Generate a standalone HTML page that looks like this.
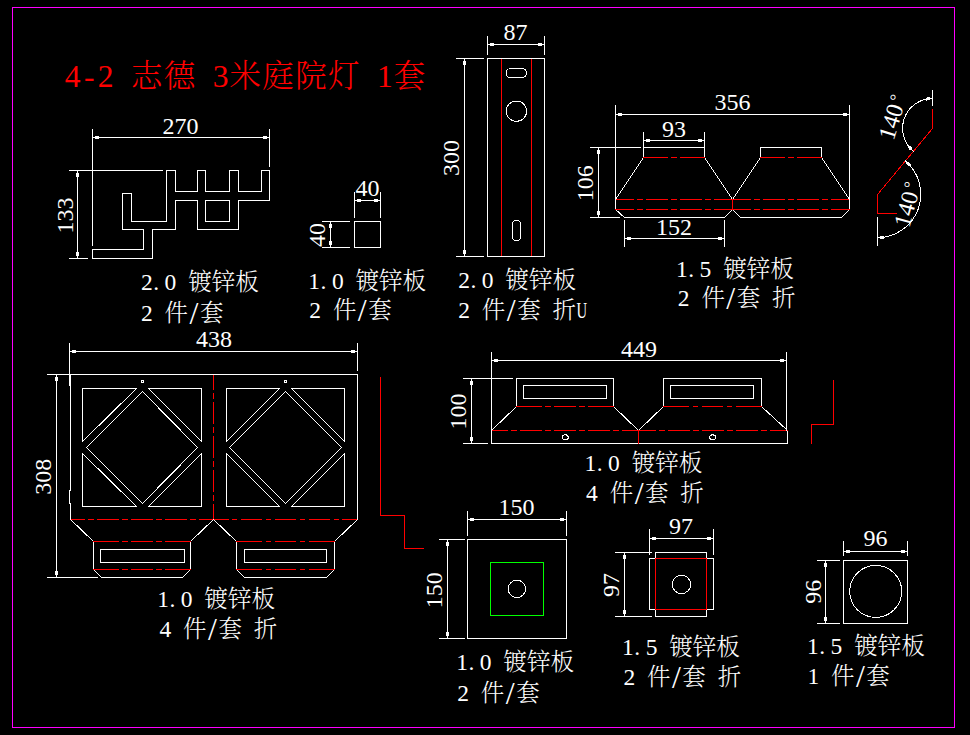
<!DOCTYPE html>
<html lang="zh"><head><meta charset="utf-8"><title>4-2 志德 3米庭院灯</title>
<style>
html,body{margin:0;padding:0;background:#000;overflow:hidden}
svg{display:block}
line,polyline,polygon,rect,circle,ellipse,path{fill:none;stroke-width:1;shape-rendering:crispEdges;stroke-linecap:square}
.w{stroke:#fff}.r{stroke:#f00}.g{stroke:#0f0}.m{stroke:#f0f}
.w2{stroke:#fff;shape-rendering:crispEdges}
.d{stroke-linecap:butt}
.a{fill:#fff;stroke:none}
text{font-family:"Liberation Serif","Noto Serif CJK SC",serif;text-anchor:middle;white-space:pre;font-weight:300}
.tw{fill:#fff}.tr{fill:#f00}
</style></head><body>
<svg width="970" height="735" viewBox="0 0 970 735">
<rect x="0" y="0" width="970" height="735" style="fill:#000;stroke:none"/>
<rect class="m" x="12.5" y="7.5" width="942" height="720"/>
<text class="tr" font-size="31.5" y="87.3" x="72.72 89.15 105.58 122.01 146.65 179.51 204.16 220.59 245.23 278.09 310.95 343.81 368.46 384.89 409.53">4-2 志德 3米庭院灯 1套</text>
<polygon class="w" points="92.5,249.5 143.5,249.5 143.5,229.5 122.5,229.5 122.5,193.5 131.5,193.5 131.5,221.5 166.5,221.5 166.5,170.5 175.5,170.5 175.5,191.5 197.5,191.5 197.5,170.5 205.5,170.5 205.5,191.5 229.5,191.5 229.5,170.5 238.5,170.5 238.5,191.5 261.5,191.5 261.5,170.5 269.5,170.5 269.5,200.5 238.5,200.5 238.5,229.5 197.5,229.5 197.5,200.5 175.5,200.5 175.5,229.5 152.5,229.5 152.5,258.5 92.5,258.5"/>
<polygon class="w" points="205.5,200.5 229.5,200.5 229.5,221.5 205.5,221.5"/>
<line class="w" x1="92.5" y1="137.5" x2="269.5" y2="137.5"/>
<line class="w" x1="92.5" y1="129.5" x2="92.5" y2="245.5"/>
<line class="w" x1="269.5" y1="129.5" x2="269.5" y2="166.5"/>
<polygon class="a" points="94,138 96,139 99,139 99,136 96,136 94,137"/>
<polygon class="a" points="268,137 266,136 263,136 263,139 266,139 268,138"/>
<line class="w" x1="77.5" y1="170.5" x2="77.5" y2="258.5"/>
<line class="w" x1="69.5" y1="170.5" x2="162.5" y2="170.5"/>
<line class="w" x1="69.5" y1="258.5" x2="87.5" y2="258.5"/>
<polygon class="a" points="77,172 76,174 76,177 79,177 79,174 78,172"/>
<polygon class="a" points="78,257 79,255 79,252 76,252 76,255 77,257"/>
<text class="tw" font-size="24" y="134" x="168.5 180.5 192.5">270</text>
<text class="tw" font-size="24" y="0" x="-12 0 12" transform="translate(73 215.5) rotate(-90)">133</text>
<text class="tw" font-size="23.5" y="289.5" x="146.89 156.17 170.45 182.23 199.9 223.46 247.02">2.0 镀锌板</text>
<text class="tw" font-size="23.5" y="321.1" x="146.89 158.67 176.34 194.01 211.68" dy="0 0 0 2.6 -2.6">2 件<tspan font-size="31.96">/</tspan>套</text>
<polygon class="w" points="354.5,221.5 380.5,221.5 380.5,247.5 354.5,247.5"/>
<line class="w" x1="354.5" y1="200.5" x2="380.5" y2="200.5"/>
<line class="w" x1="354.5" y1="192.5" x2="354.5" y2="217.5"/>
<line class="w" x1="380.5" y1="192.5" x2="380.5" y2="217.5"/>
<polygon class="a" points="356,201 358,202 361,202 361,199 358,199 356,200"/>
<polygon class="a" points="379,200 377,199 374,199 374,202 377,202 379,201"/>
<line class="w" x1="330.5" y1="221.5" x2="330.5" y2="247.5"/>
<line class="w" x1="322.5" y1="221.5" x2="349.5" y2="221.5"/>
<line class="w" x1="322.5" y1="247.5" x2="349.5" y2="247.5"/>
<polygon class="a" points="330,223 329,225 329,228 332,228 332,225 331,223"/>
<polygon class="a" points="331,246 332,244 332,241 329,241 329,244 330,246"/>
<text class="tw" font-size="24" y="196" x="361.5 373.5">40</text>
<text class="tw" font-size="24" y="0" x="-6 6" transform="translate(324.6 235) rotate(-90)">40</text>
<text class="tw" font-size="23.5" y="288.6" x="314.19 323.47 337.75 349.53 367.2 390.76 414.32">1.0 镀锌板</text>
<text class="tw" font-size="23.5" y="318.1" x="315.19 326.97 344.64 362.31 379.98" dy="0 0 0 2.6 -2.6">2 件<tspan font-size="31.96">/</tspan>套</text>
<line class="r" x1="501.5" y1="58.5" x2="501.5" y2="256.5"/>
<line class="r" x1="531.5" y1="58.5" x2="531.5" y2="256.5"/>
<polygon class="w" points="487.5,58.5 544.5,58.5 544.5,256.5 487.5,256.5"/>
<line class="w" x1="487.5" y1="44.5" x2="544.5" y2="44.5"/>
<line class="w" x1="487.5" y1="36.5" x2="487.5" y2="54.5"/>
<line class="w" x1="544.5" y1="36.5" x2="544.5" y2="54.5"/>
<polygon class="a" points="489,45 491,46 494,46 494,43 491,43 489,44"/>
<polygon class="a" points="543,44 541,43 538,43 538,46 541,46 543,45"/>
<line class="w" x1="464.5" y1="58.5" x2="464.5" y2="256.5"/>
<line class="w" x1="456.5" y1="58.5" x2="483.5" y2="58.5"/>
<line class="w" x1="456.5" y1="256.5" x2="483.5" y2="256.5"/>
<polygon class="a" points="464,60 463,62 463,65 466,65 466,62 465,60"/>
<polygon class="a" points="465,255 466,253 466,250 463,250 463,253 464,255"/>
<text class="tw" font-size="24" y="40.4" x="509.6 521.6">87</text>
<text class="tw" font-size="24" y="0" x="-12 0 12" transform="translate(459.3 158) rotate(-90)">300</text>
<rect class="w2" x="506.2" y="68.5" width="20.3" height="9.2" rx="4.6"/>
<circle class="w2" cx="516.4" cy="111.2" r="10.2"/>
<rect class="w2" x="512.2" y="220.4" width="8.7" height="20.4" rx="4.35"/>
<text class="tw" font-size="23.5" y="287.5" x="464.09 473.37 487.65 499.43 517.1 540.66 564.22">2.0 镀锌板</text>
<text class="tw" font-size="23.5" y="318" x="464.09 475.87 493.54 511.21 528.88 546.55 564.22 581.89" dy="0 0 0 2.6 -2.6 0 0 0">2 件<tspan font-size="31.96">/</tspan>套 折<tspan textLength="10.6" lengthAdjust="spacingAndGlyphs">U</tspan></text>
<polyline class="w" points="643.5,157.5 643.5,147.5 704.5,147.5 704.5,157.5"/>
<polyline class="w" points="643.5,157.5 615.5,199.5 615.5,209.5 624.5,217.5 724.5,217.5 732.5,209.5"/>
<line class="w" x1="704.5" y1="157.5" x2="732.5" y2="199.5"/>
<polyline class="w" points="760.5,157.5 760.5,147.5 821.5,147.5 821.5,157.5"/>
<polyline class="w" points="760.5,157.5 732.5,199.5"/>
<polyline class="w" points="821.5,157.5 849.5,199.5 849.5,209.5 841.5,217.5 740.5,217.5 732.5,209.5"/>
<line class="r d" x1="643" y1="157.5" x2="705" y2="157.5" stroke-dasharray="24.9 3.3 5.6 3.3 24.9 0 1000"/>
<line class="r d" x1="760" y1="157.5" x2="822" y2="157.5" stroke-dasharray="24.9 3.3 5.6 3.3 24.9 0 1000"/>
<line class="r d" x1="615" y1="199.5" x2="733" y2="199.5" stroke-dasharray="19 3.3 5.6 3.3 21.7 3.3 5.6 3.3 21.7 3.3 5.6 3.3 19 0 1000"/>
<line class="r d" x1="732" y1="199.5" x2="850" y2="199.5" stroke-dasharray="19 3.3 5.6 3.3 21.7 3.3 5.6 3.3 21.7 3.3 5.6 3.3 19 0 1000"/>
<line class="r d" x1="615" y1="209.5" x2="733" y2="209.5" stroke-dasharray="19 3.3 5.6 3.3 21.7 3.3 5.6 3.3 21.7 3.3 5.6 3.3 19 0 1000"/>
<line class="r d" x1="732" y1="209.5" x2="850" y2="209.5" stroke-dasharray="19 3.3 5.6 3.3 21.7 3.3 5.6 3.3 21.7 3.3 5.6 3.3 19 0 1000"/>
<line class="r" x1="732.5" y1="199.5" x2="732.5" y2="209.5"/>
<line class="w" x1="615.5" y1="114.5" x2="849.5" y2="114.5"/>
<line class="w" x1="615.5" y1="105.5" x2="615.5" y2="199.5"/>
<line class="w" x1="849.5" y1="105.5" x2="849.5" y2="199.5"/>
<polygon class="a" points="617,115 619,116 622,116 622,113 619,113 617,114"/>
<polygon class="a" points="848,114 846,113 843,113 843,116 846,116 848,115"/>
<line class="w" x1="643.5" y1="140.5" x2="704.5" y2="140.5"/>
<line class="w" x1="643.5" y1="132.5" x2="643.5" y2="147.5"/>
<line class="w" x1="704.5" y1="132.5" x2="704.5" y2="147.5"/>
<polygon class="a" points="645,141 647,142 650,142 650,139 647,139 645,140"/>
<polygon class="a" points="703,140 701,139 698,139 698,142 701,142 703,141"/>
<line class="w" x1="624.5" y1="238.5" x2="724.5" y2="238.5"/>
<line class="w" x1="624.5" y1="220.5" x2="624.5" y2="246.5"/>
<line class="w" x1="724.5" y1="220.5" x2="724.5" y2="246.5"/>
<polygon class="a" points="626,239 628,240 631,240 631,237 628,237 626,238"/>
<polygon class="a" points="723,238 721,237 718,237 718,240 721,240 723,239"/>
<line class="w" x1="598.5" y1="147.5" x2="598.5" y2="217.5"/>
<line class="w" x1="590.5" y1="147.5" x2="640.5" y2="147.5"/>
<line class="w" x1="590.5" y1="217.5" x2="619.5" y2="217.5"/>
<polygon class="a" points="598,149 597,151 597,154 600,154 600,151 599,149"/>
<polygon class="a" points="599,216 600,214 600,211 597,211 597,214 598,216"/>
<text class="tw" font-size="24" y="110.3" x="720.4 732.4 744.4">356</text>
<text class="tw" font-size="24" y="136.7" x="668 680">93</text>
<text class="tw" font-size="24" y="234.8" x="662 674 686">152</text>
<text class="tw" font-size="24" y="0" x="-12 0 12" transform="translate(593.4 183.3) rotate(-90)">106</text>
<text class="tw" font-size="23.5" y="277.3" x="681.89 691.17 705.45 717.23 734.9 758.46 782.02">1.5 镀锌板</text>
<text class="tw" font-size="23.5" y="306.3" x="683.69 695.47 713.14 730.81 748.48 766.15 783.82" dy="0 0 0 2.6 -2.6 0 0">2 件<tspan font-size="31.96">/</tspan>套 折</text>
<polyline class="r" points="932.5,109.5 932.5,128.5 877.5,194.5 877.5,213.5 896.5,213.5"/>
<line class="w" x1="932.5" y1="90.5" x2="932.5" y2="105.5"/>
<line class="w" x1="877.5" y1="217.5" x2="877.5" y2="245.5"/>
<path class="w" d="M932.4 98.5 A29.8 29.8 0 0 0 913.24 151.13"/>
<path class="w" d="M877.3 237.7 A43.5 43.5 0 0 0 905.26 160.88"/>
<polygon class="a" points="930.03,100.1 926.28,100.67 925.63,97.74 929.78,97.11"/>
<polygon class="a" points="912.46,148.38 909.95,145.53 907.57,147.36 910.34,150.51"/>
<polygon class="a" points="879.71,236.13 883.55,235.73 884,238.7 879.88,239.13"/>
<polygon class="a" points="906.1,163.63 908.79,166.4 911.03,164.42 908.16,161.45"/>
<text class="tw" font-size="24" y="0" x="-17.7 -5.9 5.9 18.2" dy="0 0 0 -4.8" transform="translate(900.4 118.5) rotate(-73)">140<tspan font-size="16.8">°</tspan></text>
<text class="tw" font-size="24" y="0" x="-17.7 -5.9 5.9 18.2" dy="0 0 0 -4.8" transform="translate(915.4 205.5) rotate(-75)">140<tspan font-size="16.8">°</tspan></text>
<line class="r d" x1="213.5" y1="374" x2="213.5" y2="520" stroke-dasharray="16.05 3.3 5.6 3.3 21.7 3.3 5.6 3.3 21.7 3.3 5.6 3.3 21.7 3.3 5.6 3.3 16.05 0 1000"/>
<line class="r d" x1="70" y1="519.5" x2="214" y2="519.5" stroke-dasharray="15.05 3.3 5.6 3.3 21.7 3.3 5.6 3.3 21.7 3.3 5.6 3.3 21.7 3.3 5.6 3.3 15.05 0 1000"/>
<line class="r d" x1="213" y1="519.5" x2="358" y2="519.5" stroke-dasharray="15.55 3.3 5.6 3.3 21.7 3.3 5.6 3.3 21.7 3.3 5.6 3.3 21.7 3.3 5.6 3.3 15.55 0 1000"/>
<polyline class="w" points="70.5,519.5 70.5,503.5 69.5,503.5 69.5,490.5 70.5,490.5 70.5,374.5 357.5,374.5 357.5,519.5"/>
<polygon class="w" points="82.5,388.5 136.5,388.5 82.5,441.5"/>
<polygon class="w" points="201.5,388.5 148.5,388.5 201.5,441.5"/>
<polygon class="w" points="82.5,506.5 136.5,506.5 82.5,453.5"/>
<polygon class="w" points="201.5,506.5 148.5,506.5 201.5,453.5"/>
<polygon class="w" points="142.5,391.5 197.5,447.5 142.5,503.5 86.5,447.5"/>
<polygon class="w" points="226.5,388.5 279.5,388.5 226.5,441.5"/>
<polygon class="w" points="344.5,388.5 291.5,388.5 344.5,441.5"/>
<polygon class="w" points="226.5,506.5 279.5,506.5 226.5,453.5"/>
<polygon class="w" points="344.5,506.5 291.5,506.5 344.5,453.5"/>
<polygon class="w" points="285.5,391.5 341.5,447.5 285.5,503.5 229.5,447.5"/>
<polygon class="w" points="141.5,380.5 143.5,380.5 143.5,382.5 141.5,382.5"/>
<polygon class="w" points="284.5,380.5 286.5,380.5 286.5,382.5 284.5,382.5"/>
<polyline class="w" points="70.5,519.5 93.5,541.5 93.5,569.5 101.5,577.5 182.5,577.5 190.5,569.5 190.5,541.5 213.5,519.5"/>
<line class="r d" x1="93" y1="541.5" x2="191" y2="541.5" stroke-dasharray="25.95 3.3 5.6 3.3 21.7 3.3 5.6 3.3 25.95 0 1000"/>
<line class="r d" x1="93" y1="569.5" x2="191" y2="569.5" stroke-dasharray="25.95 3.3 5.6 3.3 21.7 3.3 5.6 3.3 25.95 0 1000"/>
<polygon class="w" points="100.5,549.5 184.5,549.5 184.5,562.5 100.5,562.5"/>
<polyline class="w" points="213.5,519.5 236.5,541.5 236.5,569.5 244.5,577.5 326.5,577.5 334.5,569.5 334.5,541.5 357.5,519.5"/>
<line class="r d" x1="236" y1="541.5" x2="335" y2="541.5" stroke-dasharray="26.45 3.3 5.6 3.3 21.7 3.3 5.6 3.3 26.45 0 1000"/>
<line class="r d" x1="236" y1="569.5" x2="335" y2="569.5" stroke-dasharray="26.45 3.3 5.6 3.3 21.7 3.3 5.6 3.3 26.45 0 1000"/>
<polygon class="w" points="244.5,549.5 326.5,549.5 326.5,562.5 244.5,562.5"/>
<line class="w" x1="69.5" y1="351.5" x2="357.5" y2="351.5"/>
<line class="w" x1="69.5" y1="343.5" x2="69.5" y2="385.5"/>
<line class="w" x1="357.5" y1="343.5" x2="357.5" y2="370.5"/>
<polygon class="a" points="71,352 73,353 76,353 76,350 73,350 71,351"/>
<polygon class="a" points="356,351 354,350 351,350 351,353 354,353 356,352"/>
<line class="w" x1="56.5" y1="374.5" x2="56.5" y2="577.5"/>
<line class="w" x1="47.5" y1="374.5" x2="70.5" y2="374.5"/>
<line class="w" x1="47.5" y1="577.5" x2="97.5" y2="577.5"/>
<polygon class="a" points="56,376 55,378 55,381 58,381 58,378 57,376"/>
<polygon class="a" points="57,576 58,574 58,571 55,571 55,574 56,576"/>
<text class="tw" font-size="24" y="347.3" x="202 214 226">438</text>
<text class="tw" font-size="24" y="0" x="-12 0 12" transform="translate(51.2 476.7) rotate(-90)">308</text>
<polyline class="r" points="380.5,377.5 380.5,515.5 404.5,515.5 404.5,548.5 423.5,548.5"/>
<text class="tw" font-size="23.5" y="606.5" x="163.09 172.37 186.65 198.43 216.1 239.66 263.22">1.0 镀锌板</text>
<text class="tw" font-size="23.5" y="637.3" x="165.39 177.17 194.84 212.51 230.18 247.85 265.52" dy="0 0 0 2.6 -2.6 0 0">4 件<tspan font-size="31.96">/</tspan>套 折</text>
<polyline class="w" points="516.5,406.5 516.5,378.5 613.5,378.5 613.5,406.5"/>
<polyline class="w" points="663.5,406.5 663.5,378.5 761.5,378.5 761.5,406.5"/>
<polygon class="w" points="523.5,385.5 606.5,385.5 606.5,398.5 523.5,398.5"/>
<polygon class="w" points="670.5,385.5 753.5,385.5 753.5,398.5 670.5,398.5"/>
<polyline class="w" points="516.5,406.5 491.5,430.5 491.5,443.5 787.5,443.5 787.5,430.5 761.5,406.5"/>
<polyline class="w" points="613.5,406.5 638.5,430.5 663.5,406.5"/>
<line class="r d" x1="516" y1="406.5" x2="614" y2="406.5" stroke-dasharray="25.95 3.3 5.6 3.3 21.7 3.3 5.6 3.3 25.95 0 1000"/>
<line class="r d" x1="663" y1="406.5" x2="762" y2="406.5" stroke-dasharray="26.45 3.3 5.6 3.3 21.7 3.3 5.6 3.3 26.45 0 1000"/>
<line class="r d" x1="491" y1="430.5" x2="639" y2="430.5" stroke-dasharray="17.05 3.3 5.6 3.3 21.7 3.3 5.6 3.3 21.7 3.3 5.6 3.3 21.7 3.3 5.6 3.3 17.05 0 1000"/>
<line class="r d" x1="638" y1="430.5" x2="788" y2="430.5" stroke-dasharray="18.05 3.3 5.6 3.3 21.7 3.3 5.6 3.3 21.7 3.3 5.6 3.3 21.7 3.3 5.6 3.3 18.05 0 1000"/>
<line class="r" x1="638.5" y1="430.5" x2="638.5" y2="443.5"/>
<ellipse class="w2" cx="565.3" cy="437.2" rx="3" ry="2.4"/>
<ellipse class="w2" cx="712.6" cy="437.2" rx="3" ry="2.4"/>
<line class="w" x1="491.5" y1="360.5" x2="786.5" y2="360.5"/>
<line class="w" x1="491.5" y1="352.5" x2="491.5" y2="430.5"/>
<line class="w" x1="786.5" y1="352.5" x2="786.5" y2="430.5"/>
<polygon class="a" points="493,361 495,362 498,362 498,359 495,359 493,360"/>
<polygon class="a" points="785,360 783,359 780,359 780,362 783,362 785,361"/>
<line class="w" x1="471.5" y1="378.5" x2="471.5" y2="443.5"/>
<line class="w" x1="463.5" y1="378.5" x2="512.5" y2="378.5"/>
<line class="w" x1="463.5" y1="443.5" x2="487.5" y2="443.5"/>
<polygon class="a" points="471,380 470,382 470,385 473,385 473,382 472,380"/>
<polygon class="a" points="472,442 473,440 473,437 470,437 470,440 471,442"/>
<text class="tw" font-size="24" y="357" x="627 639 651">449</text>
<text class="tw" font-size="24" y="0" x="-12 0 12" transform="translate(466.4 411.4) rotate(-90)">100</text>
<polyline class="r" points="833.5,380.5 833.5,424.5 811.5,424.5 811.5,443.5"/>
<text class="tw" font-size="23.5" y="471.2" x="590.39 599.67 613.95 625.73 643.4 666.96 690.52">1.0 镀锌板</text>
<text class="tw" font-size="23.5" y="501.4" x="591.99 603.77 621.44 639.11 656.78 674.45 692.12" dy="0 0 0 2.6 -2.6 0 0">4 件<tspan font-size="31.96">/</tspan>套 折</text>
<polygon class="w" points="467.5,539.5 566.5,539.5 566.5,638.5 467.5,638.5"/>
<polygon class="g" points="490.5,562.5 543.5,562.5 543.5,615.5 490.5,615.5"/>
<circle class="w2" cx="516.9" cy="588.9" r="8.7"/>
<line class="w" x1="467.5" y1="519.5" x2="566.5" y2="519.5"/>
<line class="w" x1="467.5" y1="511.5" x2="467.5" y2="535.5"/>
<line class="w" x1="566.5" y1="511.5" x2="566.5" y2="535.5"/>
<polygon class="a" points="469,520 471,521 474,521 474,518 471,518 469,519"/>
<polygon class="a" points="565,519 563,518 560,518 560,521 563,521 565,520"/>
<line class="w" x1="447.5" y1="539.5" x2="447.5" y2="638.5"/>
<line class="w" x1="439.5" y1="539.5" x2="464.5" y2="539.5"/>
<line class="w" x1="439.5" y1="638.5" x2="464.5" y2="638.5"/>
<polygon class="a" points="447,541 446,543 446,546 449,546 449,543 448,541"/>
<polygon class="a" points="448,637 449,635 449,632 446,632 446,635 447,637"/>
<text class="tw" font-size="24" y="515.2" x="504.5 516.5 528.5">150</text>
<text class="tw" font-size="24" y="0" x="-12 0 12" transform="translate(442.4 590.3) rotate(-90)">150</text>
<text class="tw" font-size="23.5" y="670" x="462.09 471.37 485.65 497.43 515.1 538.66 562.22">1.0 镀锌板</text>
<text class="tw" font-size="23.5" y="700.9" x="463.09 474.87 492.54 510.21 527.88" dy="0 0 0 2.6 -2.6">2 件<tspan font-size="31.96">/</tspan>套</text>
<polygon class="w" points="655.5,558.5 655.5,552.5 706.5,552.5 706.5,558.5 713.5,558.5 713.5,609.5 706.5,609.5 706.5,616.5 655.5,616.5 655.5,609.5 649.5,609.5 649.5,558.5"/>
<polygon class="r" points="655.5,558.5 706.5,558.5 706.5,609.5 655.5,609.5"/>
<circle class="w2" cx="681.5" cy="584.4" r="9.2"/>
<line class="w" x1="649.5" y1="538.5" x2="713.5" y2="538.5"/>
<line class="w" x1="649.5" y1="529.5" x2="649.5" y2="554.5"/>
<line class="w" x1="713.5" y1="529.5" x2="713.5" y2="554.5"/>
<polygon class="a" points="651,539 653,540 656,540 656,537 653,537 651,538"/>
<polygon class="a" points="712,538 710,537 707,537 707,540 710,540 712,539"/>
<line class="w" x1="624.5" y1="552.5" x2="624.5" y2="616.5"/>
<line class="w" x1="615.5" y1="552.5" x2="651.5" y2="552.5"/>
<line class="w" x1="615.5" y1="616.5" x2="651.5" y2="616.5"/>
<polygon class="a" points="624,554 623,556 623,559 626,559 626,556 625,554"/>
<polygon class="a" points="625,615 626,613 626,610 623,610 623,613 624,615"/>
<text class="tw" font-size="24" y="534.3" x="675 687">97</text>
<text class="tw" font-size="24" y="0" x="-6 6" transform="translate(619.2 585) rotate(-90)">97</text>
<text class="tw" font-size="23.5" y="655" x="627.99 637.27 651.55 663.33 681 704.56 728.12">1.5 镀锌板</text>
<text class="tw" font-size="23.5" y="685.1" x="629.29 641.07 658.74 676.41 694.08 711.75 729.42" dy="0 0 0 2.6 -2.6 0 0">2 件<tspan font-size="31.96">/</tspan>套 折</text>
<polygon class="w" points="843.5,560.5 907.5,560.5 907.5,623.5 843.5,623.5"/>
<circle class="w2" cx="875.7" cy="591.4" r="26"/>
<line class="w" x1="843.5" y1="551.5" x2="907.5" y2="551.5"/>
<line class="w" x1="843.5" y1="541.5" x2="843.5" y2="555.5"/>
<line class="w" x1="907.5" y1="541.5" x2="907.5" y2="555.5"/>
<polygon class="a" points="845,552 847,553 850,553 850,550 847,550 845,551"/>
<polygon class="a" points="906,551 904,550 901,550 901,553 904,553 906,552"/>
<line class="w" x1="825.5" y1="560.5" x2="825.5" y2="623.5"/>
<line class="w" x1="817.5" y1="560.5" x2="839.5" y2="560.5"/>
<line class="w" x1="817.5" y1="623.5" x2="839.5" y2="623.5"/>
<polygon class="a" points="825,562 824,564 824,567 827,567 827,564 826,562"/>
<polygon class="a" points="826,622 827,620 827,617 824,617 824,620 825,622"/>
<text class="tw" font-size="24" y="546.3" x="869.5 881.5">96</text>
<text class="tw" font-size="24" y="0" x="-6 6" transform="translate(821.3 591.7) rotate(-90)">96</text>
<text class="tw" font-size="23.5" y="654.3" x="812.89 822.17 836.45 848.23 865.9 889.46 913.02">1.5 镀锌板</text>
<text class="tw" font-size="23.5" y="684" x="813.29 825.07 842.74 860.41 878.08" dy="0 0 0 2.6 -2.6">1 件<tspan font-size="31.96">/</tspan>套</text>
</svg>
</body></html>
